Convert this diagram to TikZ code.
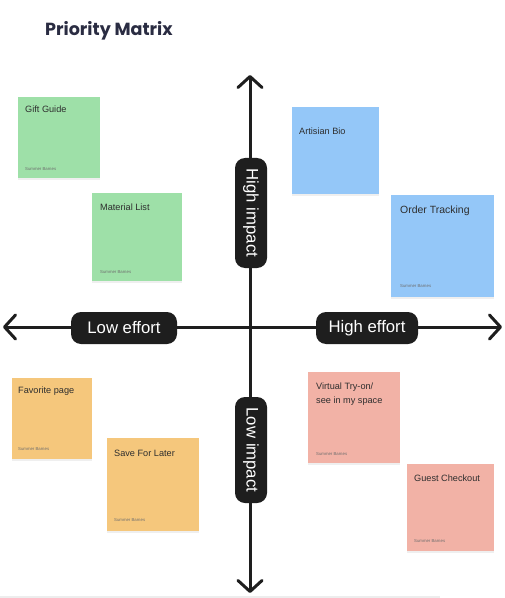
\documentclass[tikz,border=0pt]{standalone}
\usepackage{fontspec}
\setmainfont{Liberation Sans}
\newfontfamily\titlefont{Poppins}
\usetikzlibrary{arrows.meta,shadows}
\definecolor{ink}{HTML}{1E1E1E}
\definecolor{navy}{HTML}{2A2C42}
\definecolor{notegreen}{HTML}{9EE0A8}
\definecolor{noteblue}{HTML}{94C7F8}
\definecolor{noteorange}{HTML}{F5C77C}
\definecolor{notesalmon}{HTML}{F2B2A6}
\definecolor{notetext}{HTML}{2E2E2E}
\definecolor{authortext}{HTML}{6E6E6E}
\begin{document}
\begin{tikzpicture}[x=1bp,y=-1bp,
  axis/.style={draw=ink, line width=3bp, line cap=round,
    {Straight Barb[length=11bp,width=24bp,line width=3bp,round]}-{Straight Barb[length=11bp,width=24bp,line width=3bp,round]}},
  pill/.style={fill=ink, rounded corners=10bp, text=white, inner sep=0pt, font=\fontsize{16.8}{18}\selectfont},
  note/.style={inner sep=0pt, draw=none, drop shadow={shadow xshift=0bp, shadow yshift=-1.5bp, opacity=0.12}},
  ntitle/.style={anchor=west, inner sep=0pt, text=notetext, font=\fontsize{9.2}{10.5}\selectfont},
  author/.style={anchor=west, inner sep=0pt, text=authortext, font=\fontsize{4.3}{5}\selectfont},
]
\useasboundingbox (0,0) rectangle (505,598);
\fill[white] (0,0) rectangle (505,598);

% faint bottom edge
\draw[black!7, line width=1.5bp] (0,597) -- (440,597);

% title
\node[anchor=base west, inner sep=0pt, text=navy, font=\titlefont\bfseries\fontsize{17.6}{20}\selectfont] (title) at (45,36) {Priority Matrix};

% axes
\coordinate (top) at (250,75);
\coordinate (bottom) at (250,593);
\coordinate (left) at (3,327);
\coordinate (right) at (502,327);
\draw[axis] (left) -- (right);
\draw[axis] (top) -- (bottom);

% pills
\node[pill, minimum width=106bp, minimum height=32bp] (loweff) at (124,328) {Low effort};
\node[pill, minimum width=102bp, minimum height=32bp] (higheff) at (367,328) {High effort};
\node[pill, minimum width=110bp, minimum height=32bp, rotate=-90] (highimp) at (251,213) {High impact};
\node[pill, minimum width=106bp, minimum height=32bp, rotate=-90] (lowimp) at (251,450) {Low impact};

% sticky notes
\path[note, fill=notegreen] (18,97) rectangle (100,178);
\node[ntitle] (gg) at (25,109.5) {Gift Guide};
\node[author] (gga) at (25,169) {Summer Barnes};

\path[note, fill=notegreen] (92,193) rectangle (182,281);
\node[ntitle] (ml) at (100,207.5) {Material List};
\node[author] (mla) at (100,272) {Summer Barnes};

\path[note, fill=noteblue] (292,107) rectangle (379,194);
\node[ntitle] (ab) at (299,131) {Artisian Bio};

\path[note, fill=noteblue] (391,195) rectangle (494,297);
\node[ntitle, font=\fontsize{10.5}{12}\selectfont] (ot) at (400,211) {Order Tracking};
\node[author] (ota) at (400,286) {Summer Barnes};

\path[note, fill=noteorange] (12,378) rectangle (92,459);
\node[ntitle] (fp) at (18,391) {Favorite page};
\node[author] (fpa) at (18,449) {Summer Barnes};

\path[note, fill=noteorange] (107,438) rectangle (199,531);
\node[ntitle] (sl) at (114,453) {Save For Later};
\node[author] (sla) at (114,520) {Summer Barnes};

\path[note, fill=notesalmon] (308,372) rectangle (400,463);
\node[ntitle] (vt) at (316,387) {Virtual Try-on/};
\node[ntitle] (vt2) at (316,401) {see in my space};
\node[author] (vta) at (316,454) {Summer Barnes};

\path[note, fill=notesalmon] (407,464) rectangle (494,551);
\node[ntitle] (gc) at (414,478) {Guest Checkout};
\node[author] (gca) at (414,541) {Summer Barnes};
\end{tikzpicture}
\end{document}
